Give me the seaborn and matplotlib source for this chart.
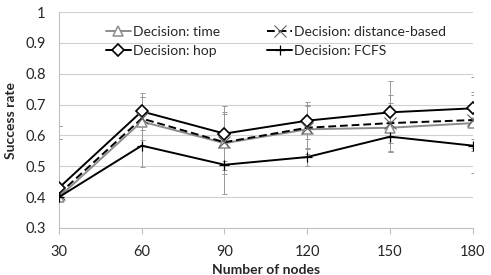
import numpy as np
import pandas as pd
import matplotlib
matplotlib.use("Agg")
import matplotlib.pyplot as plt
import seaborn as sns

nodes = [30, 60, 90, 120, 150, 180]
series = ["Decision: time", "Decision: hop", "Decision: distance-based", "Decision: FCFS"]
time_rate = [0.400, 0.645, 0.575, 0.620, 0.625, 0.640]
hop_rate = [0.430, 0.678, 0.606, 0.648, 0.675, 0.688]
dist_rate = [0.410, 0.655, 0.578, 0.625, 0.640, 0.650]
fcfs_rate = [0.400, 0.567, 0.505, 0.530, 0.596, 0.567]
time_err = [0.19, 0.08, 0.10, 0.08, 0.08, 0.09]
hop_err = [0.20, 0.06, 0.09, 0.06, 0.10, 0.10]
dist_err = [0.18, 0.07, 0.09, 0.07, 0.09, 0.09]
fcfs_err = [0.23, 0.07, 0.095, 0.03, 0.05, 0.09]

rates = [time_rate, hop_rate, dist_rate, fcfs_rate]
errs = [time_err, hop_err, dist_err, fcfs_err]

df = pd.DataFrame({
    "nodes": nodes * 4,
    "rate": time_rate + hop_rate + dist_rate + fcfs_rate,
    "series": [s for s in series for _ in nodes],
})

sns.set_style("white")
plt.rcParams["font.family"] = ["Lato", "DejaVu Sans"]

fig = plt.figure(figsize=(4.91, 2.75), dpi=100)
ax = fig.add_axes([0.120, 0.171, 0.843, 0.785])

colors = ["#8c8c8c", "black", "black", "black"]
edge = ["#8c8c8c", "black", "#606060", "black"]
marks = ["^", "D", "x", "+"]
msize = [7, 6, 9, 7]
mew = [1.1, 1.2, 0.8, 0.9]
lstyle = ["-", "-", "--", "-"]

for r, e in zip(rates, errs):
    ax.errorbar(nodes, r, yerr=e, fmt="none", ecolor="#999999", elinewidth=0.7,
                capsize=1.8, capthick=0.7, zorder=1)

handles = []
for i, s in enumerate(series):
    sub = df[df["series"] == s]
    sns.lineplot(data=sub, x="nodes", y="rate", color=colors[i], marker=marks[i],
                 markersize=msize[i], markerfacecolor="white", markeredgecolor=edge[i],
                 markeredgewidth=mew[i], linestyle=lstyle[i], linewidth=1.4,
                 legend=False, ax=ax, zorder=3)
    line = ax.get_lines()[-1]
    if lstyle[i] == "--":
        line.set_dashes((4, 2))
    handles.append(line)

leg = ax.legend(handles, series, ncol=2, loc="upper left", bbox_to_anchor=(0.1, 0.96),
                frameon=False, fontsize=10, handlelength=1.8, handletextpad=0.15,
                columnspacing=3.4, labelspacing=0.5, borderaxespad=0)

ax.set_xlim(30, 180)
ax.set_ylim(0.3, 1.0)
ax.set_xticks(nodes)
ax.set_yticks(np.arange(0.3, 1.01, 0.1))
ax.yaxis.set_major_formatter(matplotlib.ticker.FormatStrFormatter("%g"))
ax.grid(axis="y", color="#d0d0d0", linewidth=0.8)
ax.set_axisbelow(True)
for side in ["top", "right"]:
    ax.spines[side].set_visible(False)
ax.spines["left"].set_color("#c0c0c0")
ax.spines["bottom"].set_color("#c0c0c0")
ax.tick_params(axis="x", bottom=True, length=4, color="#c0c0c0", labelsize=10.5, pad=8)
ax.tick_params(axis="y", left=False, labelsize=10.5, pad=6)
ax.set_xlabel("Number of nodes", fontsize=10, fontweight="bold", labelpad=4)
ax.set_ylabel("Success rate", fontsize=10, fontweight="bold", labelpad=6)

fig.savefig("out.png", dpi=100)
